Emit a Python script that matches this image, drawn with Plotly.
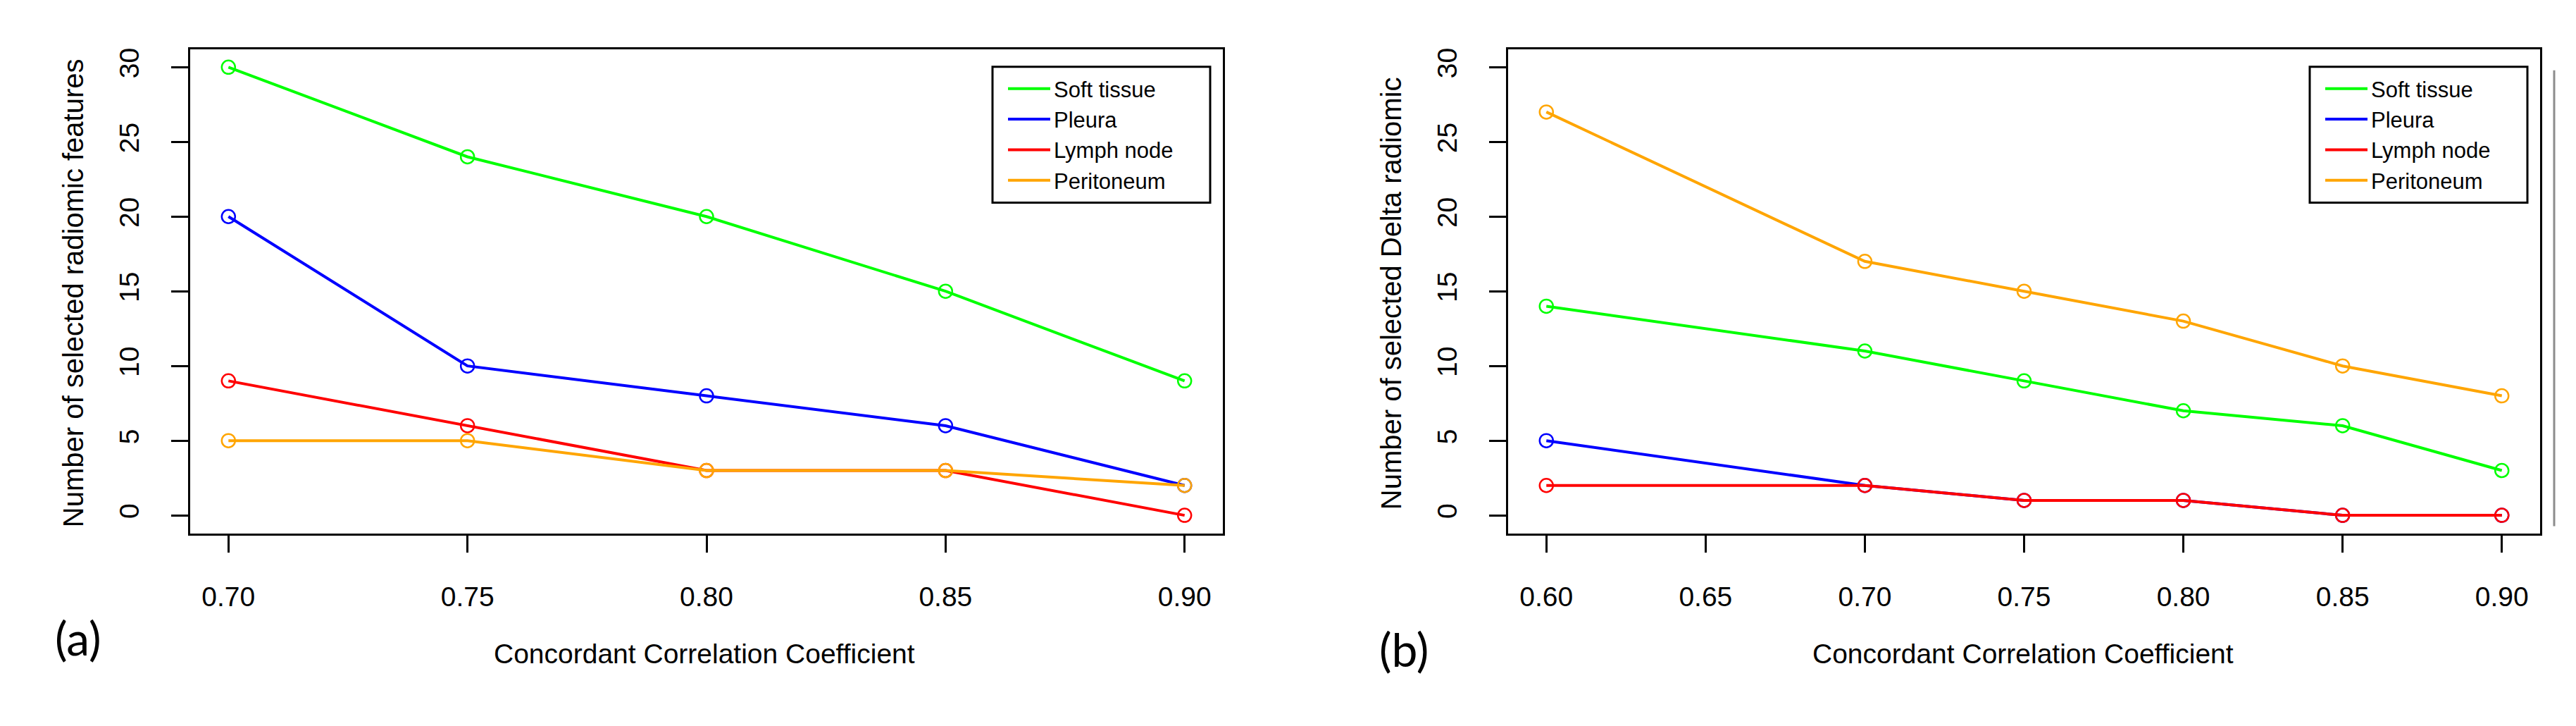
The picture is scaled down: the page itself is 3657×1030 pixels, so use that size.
import plotly.graph_objects as go

# ---------------- data ----------------
series_names = ["Soft tissue", "Pleura", "Lymph node", "Peritoneum"]
series_colors = ["#00FF00", "#0000FF", "#FF0000", "#FFA500"]

ccc_a = [0.70, 0.75, 0.80, 0.85, 0.90]
soft_a = [30, 24, 20, 15, 9]
pleura_a = [20, 10, 8, 6, 2]
lymph_a = [9, 6, 3, 3, 0]
perit_a = [5, 5, 3, 3, 2]

ccc_b = [0.60, 0.70, 0.75, 0.80, 0.85, 0.90]
soft_b = [14, 11, 9, 7, 6, 3]
pleura_b = [5, 2, 1, 1, 0, 0]
lymph_b = [2, 2, 1, 1, 0, 0]
perit_b = [27, 17, 15, 13, 10, 8]

xticks_a = [0.70, 0.75, 0.80, 0.85, 0.90]
xticklabels_a = ["0.70", "0.75", "0.80", "0.85", "0.90"]
xticks_b = [0.60, 0.65, 0.70, 0.75, 0.80, 0.85, 0.90]
xticklabels_b = ["0.60", "0.65", "0.70", "0.75", "0.80", "0.85", "0.90"]
yticks = [0, 5, 10, 15, 20, 25, 30]
yticklabels = ["0", "5", "10", "15", "20", "25", "30"]

ytitle_a = "Number of selected radiomic features"
ytitle_b = "Number of selected Delta radiomic"
xtitle = "Concordant Correlation Coefficient"

# ---------------- figure ----------------
W, H = 3657, 1030
FONT = "Liberation Sans, Arial, sans-serif"

fig = go.Figure()


def add_panel(xv, ys, xaxis, yaxis, legend):
    for name, color, yv in zip(series_names, series_colors, ys):
        fig.add_trace(go.Scatter(
            x=xv, y=yv, mode="lines", name=name,
            line=dict(color=color, width=4),
            xaxis=xaxis, yaxis=yaxis, legend=legend, showlegend=True,
            hoverinfo="skip"))
        fig.add_trace(go.Scatter(
            x=xv, y=yv, mode="markers", name=name,
            marker=dict(symbol="circle-open", size=19, color=color,
                        line=dict(width=2.5, color=color)),
            xaxis=xaxis, yaxis=yaxis, showlegend=False,
            hoverinfo="skip"))


add_panel(ccc_a, [soft_a, pleura_a, lymph_a, perit_a], "x", "y", "legend")
add_panel(ccc_b, [soft_b, pleura_b, lymph_b, perit_b], "x2", "y2", "legend2")


def px_x(p):
    return p / W


def px_y(p):
    return 1 - p / H


plot_top, plot_bot = 60, 748
ydom = [px_y(plot_bot), px_y(plot_top)]

axis_common = dict(
    showline=True, mirror=True, linecolor="black", linewidth=3,
    ticks="outside", ticklen=24, tickwidth=3, tickcolor="black",
    showgrid=False, zeroline=False,
    tickfont=dict(family=FONT, size=39, color="black"),
)

fig.update_layout(
    width=W, height=H,
    margin=dict(l=0, r=0, t=0, b=0),
    paper_bgcolor="white", plot_bgcolor="white",
    font=dict(family=FONT, color="black"),
    xaxis=dict(domain=[px_x(262), px_x(1728)], range=[0.692, 0.908],
               tickmode="array", tickvals=xticks_a, ticktext=xticklabels_a,
               anchor="y", ticklabelstandoff=30, **axis_common),
    yaxis=dict(domain=ydom, range=[-1.2, 31.2],
               tickmode="array", tickvals=yticks, ticktext=yticklabels,
               tickangle=-90, anchor="x", ticklabelstandoff=30, **axis_common),
    xaxis2=dict(domain=[px_x(2133), px_x(3598)], range=[0.588, 0.912],
                tickmode="array", tickvals=xticks_b, ticktext=xticklabels_b,
                anchor="y2", ticklabelstandoff=30, **axis_common),
    yaxis2=dict(domain=ydom, range=[-1.2, 31.2],
                tickmode="array", tickvals=yticks, ticktext=yticklabels,
                tickangle=-90, anchor="x2", ticklabelstandoff=30, **axis_common),
)

legend_common = dict(
    bgcolor="rgba(0,0,0,0)", borderwidth=0,
    font=dict(family=FONT, size=31, color="black"),
    itemwidth=60, tracegroupgap=0,
    xanchor="left", yanchor="middle",
    traceorder="normal",
)
fig.update_layout(
    legend=dict(x=px_x(1418), y=px_y(181.5), **legend_common),
    legend2=dict(x=px_x(3288), y=px_y(181.5), **legend_common),
)

# legend frames
for x0, x1 in [(1401, 1710), (3271, 3580)]:
    fig.add_shape(type="rect", xref="paper", yref="paper",
                  x0=px_x(x0), x1=px_x(x1), y0=px_y(278), y1=px_y(85),
                  line=dict(color="black", width=3), fillcolor="rgba(0,0,0,0)",
                  layer="above")

# stray gray rule at the far right of the original figure
fig.add_shape(type="line", xref="paper", yref="paper",
              x0=px_x(3618), x1=px_x(3618), y0=px_y(738), y1=px_y(90),
              line=dict(color="#8c8c8c", width=3))

# axis titles
for xc, txt in [(96, ytitle_a), (1967, ytitle_b)]:
    fig.add_annotation(text=txt, xref="paper", yref="paper",
                       x=px_x(xc), y=px_y(407), textangle=-90,
                       showarrow=False, xanchor="center", yanchor="middle",
                       font=dict(family=FONT, size=40, color="black"))
for xc in [992, 2864]:
    fig.add_annotation(text=xtitle, xref="paper", yref="paper",
                       x=px_x(xc), y=px_y(919),
                       showarrow=False, xanchor="center", yanchor="middle",
                       font=dict(family=FONT, size=39, color="black"))

# panel letters
for xc, yc, txt in [(103, 896, "(a)"), (1985, 912, "(b)")]:
    fig.add_annotation(text=txt, xref="paper", yref="paper",
                       x=px_x(xc), y=px_y(yc),
                       showarrow=False, xanchor="center", yanchor="middle",
                       font=dict(family="Lato, Open Sans, sans-serif", size=66, color="black"))

fig.write_html("out.html")
